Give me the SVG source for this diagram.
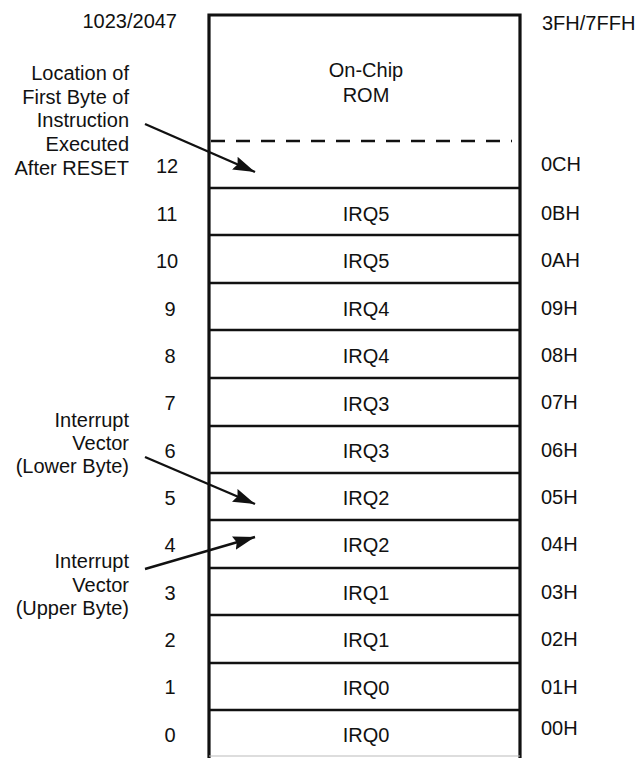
<svg xmlns="http://www.w3.org/2000/svg" width="641" height="758" viewBox="0 0 641 758">
<style>
text{font-family:"Liberation Sans",Arial,sans-serif;font-size:20px;fill:#111}
.num{text-anchor:middle}
.irq{text-anchor:middle}
.hex{text-anchor:start}
.note{text-anchor:end}
.row{stroke:#111;stroke-width:2.4;fill:none}
.edge{stroke:#111;stroke-width:3.2;fill:none}
.arr{stroke:#111;stroke-width:2.4;fill:none;marker-end:url(#ah)}
</style>
<defs>
<marker id="ah" markerWidth="24" markerHeight="14" refX="22" refY="7" orient="auto" markerUnits="userSpaceOnUse">
<path d="M0,0 L22,7 L0,14 L3,7 Z" fill="#111"/>
</marker>
</defs>
<rect width="641" height="758" fill="#fff"/>
<g id="memory">
<path class="edge" d="M209,758 V15 H520 V758"/>
<line x1="211" y1="141" x2="512" y2="141" stroke="#111" stroke-width="2.4" stroke-dasharray="14,11"/>
<line class="row" x1="209" y1="188" x2="520" y2="188"/>
<line class="row" x1="209" y1="235" x2="520" y2="235"/>
<line class="row" x1="209" y1="283" x2="520" y2="283"/>
<line class="row" x1="209" y1="330" x2="520" y2="330"/>
<line class="row" x1="209" y1="378" x2="520" y2="378"/>
<line class="row" x1="209" y1="426" x2="520" y2="426"/>
<line class="row" x1="209" y1="473" x2="520" y2="473"/>
<line class="row" x1="209" y1="520" x2="520" y2="520"/>
<line class="row" x1="209" y1="568" x2="520" y2="568"/>
<line class="row" x1="209" y1="615" x2="520" y2="615"/>
<line class="row" x1="209" y1="663" x2="520" y2="663"/>
<line class="row" x1="209" y1="710" x2="520" y2="710"/>
<line x1="209" y1="756" x2="520" y2="756" stroke="#bbb" stroke-width="1"/>
</g>
<g id="rom">
<text class="irq" x="366" y="77">On-Chip</text>
<text class="irq" x="366" y="102">ROM</text>
</g>
<g id="labels-top">
<text x="177" y="28" text-anchor="end">1023/2047</text>
<text class="hex" x="542" y="30">3FH/7FFH</text>
<text class="num" x="167" y="173">12</text>
<text class="hex" x="541" y="171">0CH</text>
</g>
<g id="rows">
<text class="num" x="167" y="221">11</text><text class="irq" x="366" y="221">IRQ5</text><text class="hex" x="541" y="220">0BH</text>
<text class="num" x="167" y="268">10</text><text class="irq" x="366" y="268">IRQ5</text><text class="hex" x="541" y="267">0AH</text>
<text class="num" x="170" y="316">9</text><text class="irq" x="366" y="316">IRQ4</text><text class="hex" x="541" y="315">09H</text>
<text class="num" x="170" y="363">8</text><text class="irq" x="366" y="363">IRQ4</text><text class="hex" x="541" y="362">08H</text>
<text class="num" x="170" y="410">7</text><text class="irq" x="366" y="411">IRQ3</text><text class="hex" x="541" y="409">07H</text>
<text class="num" x="170" y="458">6</text><text class="irq" x="366" y="458">IRQ3</text><text class="hex" x="541" y="457">06H</text>
<text class="num" x="170" y="505">5</text><text class="irq" x="366" y="505">IRQ2</text><text class="hex" x="541" y="504">05H</text>
<text class="num" x="170" y="552">4</text><text class="irq" x="366" y="552">IRQ2</text><text class="hex" x="541" y="551">04H</text>
<text class="num" x="170" y="600">3</text><text class="irq" x="366" y="600">IRQ1</text><text class="hex" x="541" y="599">03H</text>
<text class="num" x="170" y="647">2</text><text class="irq" x="366" y="647">IRQ1</text><text class="hex" x="541" y="646">02H</text>
<text class="num" x="170" y="694">1</text><text class="irq" x="366" y="695">IRQ0</text><text class="hex" x="541" y="694">01H</text>
<text class="num" x="170" y="742">0</text><text class="irq" x="366" y="742">IRQ0</text><text class="hex" x="541" y="735">00H</text>
</g>
<g id="note-reset">
<text class="note" x="129" y="80">Location of</text>
<text class="note" x="129" y="104">First Byte of</text>
<text class="note" x="129" y="127">Instruction</text>
<text class="note" x="129" y="151">Executed</text>
<text class="note" x="129" y="175">After RESET</text>
</g>
<g id="note-lower">
<text class="note" x="129" y="427">Interrupt</text>
<text class="note" x="129" y="450">Vector</text>
<text class="note" x="129" y="473">(Lower Byte)</text>
</g>
<g id="note-upper">
<text class="note" x="129" y="568">Interrupt</text>
<text class="note" x="129" y="592">Vector</text>
<text class="note" x="129" y="615">(Upper Byte)</text>
</g>
<g id="connectors">
<line class="arr" x1="145" y1="124" x2="255" y2="172"/>
<line class="arr" x1="145" y1="457" x2="255" y2="504"/>
<line class="arr" x1="145" y1="569" x2="255" y2="537"/>
</g>
</svg>
